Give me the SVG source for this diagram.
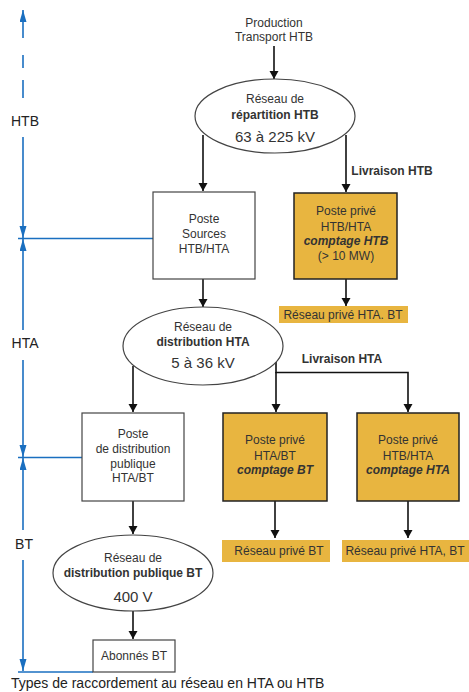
<svg xmlns="http://www.w3.org/2000/svg" width="469" height="692" viewBox="0 0 469 692">
<defs>
<marker id="ah" markerWidth="9" markerHeight="12" refX="8" refY="4.5" orient="auto" markerUnits="userSpaceOnUse"><path d="M0,0 L8,4.5 L0,9 Z" fill="#111"/></marker>
<marker id="bh" markerWidth="13" markerHeight="8" refX="12" refY="3.5" orient="auto" markerUnits="userSpaceOnUse"><path d="M0,0 L12,3.5 L0,7 Z" fill="#1a6fc0"/></marker>
<style>
text{font-family:"Liberation Sans",Arial,sans-serif;fill:#333;font-size:12px;text-anchor:middle}
.b{font-weight:bold}
.i{font-weight:bold;font-style:italic}
.big{font-size:15px}
.box{fill:#fff;stroke:#444;stroke-width:1.2}
.obox{fill:#e8b540;stroke:#222;stroke-width:1.5}
.lbl{fill:#e8b540}
.ell{fill:#fff;stroke:#444;stroke-width:1.2}
.c{stroke:#111;stroke-width:1.6;fill:none}
.ax{stroke:#1a6fc0;stroke-width:1.6;fill:none}
.axt{font-size:14px;fill:#222}
</style>
</defs>
<g id="axis">
<line class="ax" x1="23" y1="38" x2="23" y2="10" marker-end="url(#bh)"/>
<line class="ax" x1="23" y1="55" x2="23" y2="68"/>
<line class="ax" x1="23" y1="80" x2="23" y2="98"/>
<line class="ax" x1="23" y1="137" x2="23" y2="238" marker-end="url(#bh)"/>
<line class="ax" x1="18" y1="238.5" x2="153" y2="238.5" stroke-width="1"/>
<line class="ax" x1="23" y1="330" x2="23" y2="239" marker-end="url(#bh)"/>
<line class="ax" x1="23" y1="360" x2="23" y2="457" marker-end="url(#bh)"/>
<line class="ax" x1="18" y1="457.5" x2="82" y2="457.5" stroke-width="1"/>
<line class="ax" x1="23" y1="530" x2="23" y2="458" marker-end="url(#bh)"/>
<line class="ax" x1="23" y1="560" x2="23" y2="671" marker-end="url(#bh)"/>
<line class="ax" x1="18" y1="672" x2="93" y2="672" stroke-width="1"/>
<text class="axt" x="25" y="126">HTB</text>
<text class="axt" x="25" y="348">HTA</text>
<text class="axt" x="24" y="549">BT</text>
</g>
<g id="connectors">
<line class="c" x1="274" y1="46" x2="274" y2="79" marker-end="url(#ah)"/>
<line class="c" x1="203" y1="135" x2="203" y2="191" marker-end="url(#ah)"/>
<line class="c" x1="346" y1="135" x2="346" y2="192" marker-end="url(#ah)"/>
<line class="c" x1="346" y1="279" x2="346" y2="306" marker-end="url(#ah)"/>
<line class="c" x1="203" y1="279" x2="203" y2="307" marker-end="url(#ah)"/>
<line class="c" x1="133" y1="366" x2="133" y2="412" marker-end="url(#ah)"/>
<polyline class="c" points="276,362 276,372.5 408,372.5 408,412" marker-end="url(#ah)"/>
<line class="c" x1="276" y1="372" x2="276" y2="412" marker-end="url(#ah)"/>
<line class="c" x1="275" y1="501" x2="275" y2="538" marker-end="url(#ah)"/>
<line class="c" x1="408" y1="501" x2="408" y2="538" marker-end="url(#ah)"/>
<line class="c" x1="133" y1="501" x2="133" y2="534" marker-end="url(#ah)"/>
<line class="c" x1="133" y1="611" x2="133" y2="639" marker-end="url(#ah)"/>
<text class="b" x="392" y="175">Livraison HTB</text>
<text class="b" x="342" y="363">Livraison HTA</text>
</g>
<g id="production">
<text x="274" y="27">Production</text>
<text x="274" y="41">Transport HTB</text>
</g>
<g id="reseau-htb">
<ellipse class="ell" cx="275" cy="116" rx="80" ry="37"/>
<text x="275" y="103">Réseau de</text>
<text class="b" x="275" y="119">répartition HTB</text>
<text class="big" x="275" y="142">63 à 225 kV</text>
</g>
<g id="poste-sources">
<rect class="box" x="153" y="192" width="102" height="87"/>
<text x="204" y="223">Poste</text>
<text x="204" y="238">Sources</text>
<text x="204" y="253">HTB/HTA</text>
</g>
<g id="poste-prive-htb">
<rect class="obox" x="294" y="193" width="103" height="86"/>
<text x="346" y="215">Poste privé</text>
<text x="346" y="231">HTB/HTA</text>
<text class="i" x="346" y="245">comptage HTB</text>
<text x="346" y="260">(&gt; 10 MW)</text>
</g>
<g id="reseau-prive-1">
<rect class="lbl" x="279" y="306" width="129" height="17"/>
<text x="343" y="319">Réseau privé HTA. BT</text>
</g>
<g id="reseau-hta">
<ellipse class="ell" cx="203" cy="346" rx="80" ry="39"/>
<text x="203" y="331">Réseau de</text>
<text class="b" x="203" y="346">distribution HTA</text>
<text class="big" x="203" y="368">5 à 36 kV</text>
</g>
<g id="poste-distribution">
<rect class="box" x="82" y="413" width="102" height="88"/>
<text x="133" y="438">Poste</text>
<text x="133" y="453">de distribution</text>
<text x="133" y="468">publique</text>
<text x="133" y="482">HTA/BT</text>
</g>
<g id="poste-prive-bt">
<rect class="obox" x="223" y="413" width="104" height="88"/>
<text x="275" y="444">Poste privé</text>
<text x="275" y="460">HTA/BT</text>
<text class="i" x="275" y="474">comptage BT</text>
</g>
<g id="poste-prive-hta">
<rect class="obox" x="357" y="413" width="102" height="88"/>
<text x="408" y="444">Poste privé</text>
<text x="408" y="460">HTB/HTA</text>
<text class="i" x="408" y="474">comptage HTA</text>
</g>
<g id="reseau-prive-bt">
<rect class="lbl" x="222" y="540" width="108" height="22"/>
<text x="279" y="555">Réseau privé BT</text>
</g>
<g id="reseau-prive-hta-bt">
<rect class="lbl" x="342" y="540" width="127" height="22"/>
<text x="405" y="555">Réseau privé HTA, BT</text>
</g>
<g id="reseau-bt">
<ellipse class="ell" cx="133" cy="573" rx="80" ry="38"/>
<text x="133" y="562">Réseau de</text>
<text class="b" x="133" y="577">distribution publique BT</text>
<text class="big" x="133" y="602">400 V</text>
</g>
<g id="abonnes-bt">
<rect class="box" x="93" y="640" width="82" height="32"/>
<text x="134" y="660">Abonnés BT</text>
</g>
<text x="11" y="688" style="text-anchor:start;font-size:14px;fill:#222">Types de raccordement au réseau en HTA ou HTB</text>
</svg>
